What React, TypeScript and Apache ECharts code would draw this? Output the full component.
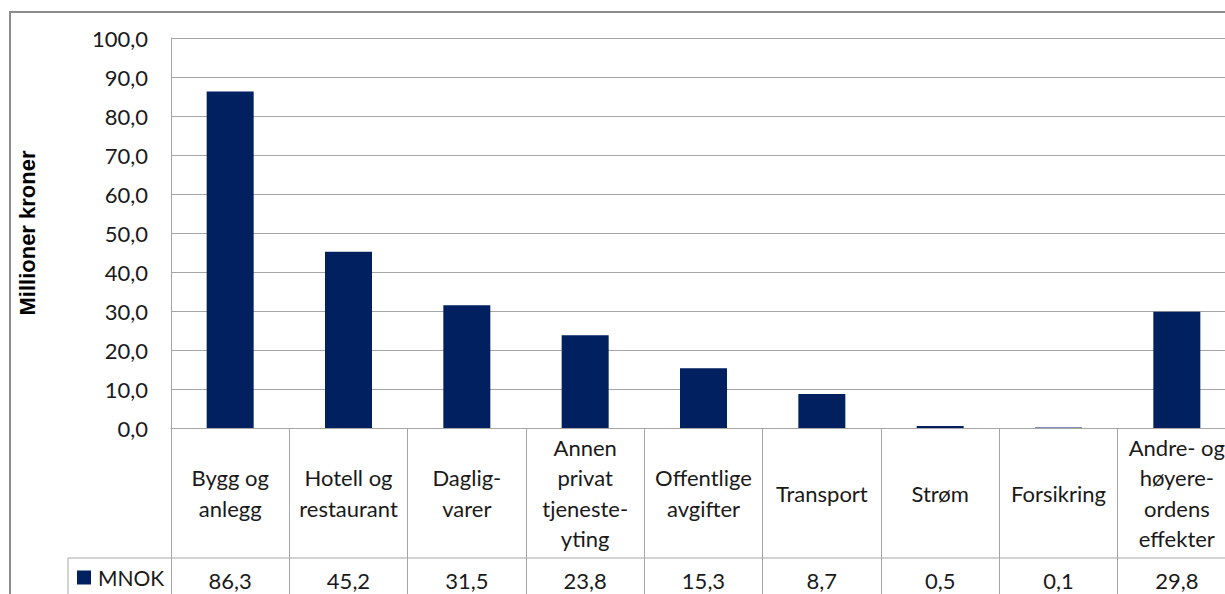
import React, { useEffect, useRef } from "react";
import * as echarts from "echarts";

const categories = [
  "Bygg og\nanlegg",
  "Hotell og\nrestaurant",
  "Daglig-\nvarer",
  "Annen\nprivat\ntjeneste-\nyting",
  "Offentlige\navgifter",
  "Transport",
  "Strøm",
  "Forsikring",
  "Andre- og\nhøyere-\nordens\neffekter",
];
const values = [86.3, 45.2, 31.5, 23.8, 15.3, 8.7, 0.5, 0.1, 29.8];
const seriesName = "MNOK";
const yAxisName = "Millioner kroner";
const yMin = 0;
const yMax = 100;
const yInterval = 10;

const fmt = (v: number) => v.toFixed(1).replace(".", ",");

const FONT = "Lato";
const FS = 22;
const TXT = "#1a1a1a";
const GRIDC = "#a6a6a6";

export default function App() {
  const ref = useRef<HTMLDivElement>(null);
  useEffect(() => {
    if (!ref.current) return;
    const chart = echarts.init(ref.current, undefined, { renderer: "svg" });
    const gridBox = { left: 171, top: 38, width: 1065, height: 390 };
    chart.setOption({
      animation: false,
      backgroundColor: "#ffffff",
      textStyle: { fontFamily: FONT },
      grid: [
        { ...gridBox, containLabel: false },
        { ...gridBox, containLabel: false },
      ],
      legend: {
        left: 77,
        top: 567,
        padding: 0,
        itemWidth: 14,
        itemHeight: 14,
        icon: "rect",
        itemGap: 5,
        textStyle: { fontFamily: FONT, fontSize: 21, color: TXT, padding: [0, 0, 0, 2] },
        data: [seriesName],
      },
      xAxis: [
        {
          type: "category",
          gridIndex: 0,
          data: categories,
          axisLine: { show: true, lineStyle: { color: GRIDC, width: 1 } },
          axisTick: {
            show: true,
            length: 170,
            alignWithLabel: false,
            interval: 0,
            lineStyle: { color: GRIDC, width: 1 },
          },
          axisLabel: {
            interval: 0,
            margin: 65,
            verticalAlign: "middle",
            fontFamily: FONT,
            fontSize: FS,
            lineHeight: 30.5,
            color: TXT,
          },
        },
        {
          type: "category",
          gridIndex: 1,
          data: values.map(fmt),
          axisLine: { show: false },
          axisTick: { show: false },
          axisLabel: {
            interval: 0,
            margin: 152,
            verticalAlign: "middle",
            fontFamily: FONT,
            fontSize: FS,
            color: TXT,
          },
        },
      ],
      yAxis: [
        {
          type: "value",
          gridIndex: 0,
          min: yMin,
          max: yMax,
          interval: yInterval,
          name: yAxisName,
          nameLocation: "middle",
          nameRotate: 90,
          nameGap: 133,
          nameTextStyle: {
            fontFamily: "Liberation Sans",
            fontSize: 22,
            fontWeight: "bold",
            color: "#000",
          },
          axisLine: { show: true, lineStyle: { color: GRIDC, width: 1 } },
          axisTick: { show: false },
          splitLine: { show: true, lineStyle: { color: GRIDC, width: 1 } },
          axisLabel: {
            formatter: (v: number) => fmt(v),
            fontFamily: FONT,
            fontSize: FS,
            color: TXT,
            margin: 23,
          },
        },
        {
          type: "value",
          gridIndex: 1,
          min: yMin,
          max: yMax,
          show: false,
        },
      ],
      series: [
        {
          name: seriesName,
          type: "bar",
          xAxisIndex: 0,
          yAxisIndex: 0,
          data: values,
          barWidth: 47,
          itemStyle: { color: "#002060" },
        },
      ],
      graphic: [
        {
          type: "rect",
          shape: { x: 10, y: 12, width: 1400, height: 800 },
          style: { fill: "none", stroke: "#8c8c8c", lineWidth: 2 },
          silent: true,
        },
        {
          type: "line",
          shape: { x1: 68, y1: 558, x2: 1400, y2: 558 },
          style: { stroke: GRIDC, lineWidth: 1 },
          silent: true,
        },
        {
          type: "line",
          shape: { x1: 68, y1: 558, x2: 68, y2: 700 },
          style: { stroke: GRIDC, lineWidth: 1 },
          silent: true,
        },
      ],
    });
    return () => chart.dispose();
  }, []);
  return (
    <div
      style={{
        position: "fixed",
        left: 0,
        top: 0,
        width: 1225,
        height: 594,
        overflow: "hidden",
        background: "#fff",
      }}
    >
      <div ref={ref} style={{ width: 1300, height: 640 }} />
    </div>
  );
}
